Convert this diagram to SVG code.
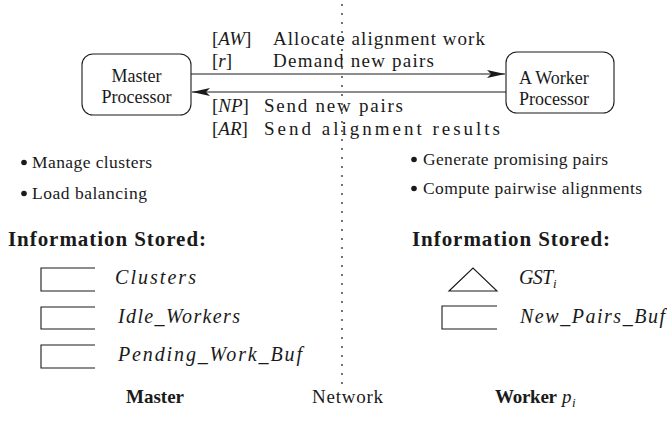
<svg xmlns="http://www.w3.org/2000/svg" width="667" height="436" viewBox="0 0 667 436">
<style>
  text { font-family: "Liberation Serif", "Times New Roman", serif; fill: #1a1a1a; }
  .box { fill: #fff; stroke: #1a1a1a; stroke-width: 1.1; }
  .ln { fill: none; stroke: #1a1a1a; stroke-width: 1.1; }
  .lbl { font-size: 20px; }
  .msg { font-size: 19px; }
  .nd { font-size: 18px; }
  .it { font-style: italic; }
  .bd { font-weight: bold; }
  .net { stroke: #1a1a1a; stroke-width: 1.2; stroke-dasharray: 2 7; fill: none; }
</style>
<defs>
  <marker id="ah" viewBox="0 0 18 8" refX="18" refY="4" markerWidth="18" markerHeight="8" markerUnits="userSpaceOnUse" orient="auto">
    <path d="M0,0 L18,4 L0,8 L4,4 Z" fill="#1a1a1a"/>
  </marker>
</defs>

<line class="net" x1="342" y1="4" x2="342" y2="384"/>

<g id="master">
  <rect class="box" x="82" y="54" width="109" height="61" rx="11"/>
  <text class="nd" x="136.5" y="82" text-anchor="middle">Master</text>
  <text class="nd" x="136.5" y="103" text-anchor="middle">Processor</text>
</g>

<g id="worker">
  <rect class="box" x="506" y="52" width="108" height="61" rx="11"/>
  <text class="nd" x="519" y="84">A Worker</text>
  <text class="nd" x="519" y="105">Processor</text>
</g>

<g id="connectors">
  <line class="ln" x1="191" y1="74" x2="505" y2="74" marker-end="url(#ah)"/>
  <line class="ln" x1="506" y1="92" x2="192" y2="92" marker-end="url(#ah)"/>
</g>

<g id="messages" class="msg">
  <text x="212" y="45">[<tspan class="it">AW</tspan>]</text>
  <text x="273" y="45" textLength="212">Allocate alignment work</text>
  <text x="212" y="67">[<tspan class="it">r</tspan>]</text>
  <text x="273" y="67" textLength="161">Demand new pairs</text>
  <text x="212" y="112">[<tspan class="it">NP</tspan>]</text>
  <text x="264" y="112" textLength="139">Send new pairs</text>
  <text x="212" y="135">[<tspan class="it">AR</tspan>]</text>
  <text x="264" y="135" textLength="236">Send alignment results</text>
</g>

<g id="master-tasks">
  <circle cx="24" cy="162.5" r="2.8" fill="#1a1a1a"/>
  <text x="32" y="168" font-size="17.5" textLength="120">Manage clusters</text>
  <circle cx="24" cy="193.5" r="2.8" fill="#1a1a1a"/>
  <text x="32" y="199" font-size="17.5" textLength="115">Load balancing</text>
</g>

<g id="worker-tasks">
  <circle cx="414" cy="159.5" r="2.8" fill="#1a1a1a"/>
  <text x="423" y="165" font-size="17.5" textLength="185">Generate promising pairs</text>
  <circle cx="414" cy="188.5" r="2.8" fill="#1a1a1a"/>
  <text x="423" y="194" font-size="17.5" textLength="219">Compute pairwise alignments</text>
</g>

<g id="master-info">
  <text class="bd" x="8" y="246" font-size="21" textLength="198">Information Stored:</text>
  <path class="ln" d="M95,268 H41 V291 H95"/>
  <text class="lbl it" x="115" y="284" textLength="81">Clusters</text>
  <path class="ln" d="M95,307 H41 V329 H95"/>
  <text class="lbl it" x="118" y="323" textLength="122">Idle_Workers</text>
  <path class="ln" d="M95,345 H41 V368 H95"/>
  <text class="lbl it" x="118" y="361" textLength="184">Pending_Work_Buf</text>
</g>

<g id="worker-info">
  <text class="bd" x="412" y="246" font-size="21" textLength="198">Information Stored:</text>
  <path class="ln" d="M449,291 L473,268 L497,291 Z"/>
  <text class="lbl it" x="519" y="284" textLength="34">GST</text>
  <text class="it" x="553" y="288" font-size="13">i</text>
  <path class="ln" d="M497,306 H442 V329 H497"/>
  <text class="lbl it" x="520" y="323" textLength="145">New_Pairs_Buf</text>
</g>

<g id="footer">
  <text class="bd" x="126" y="403" font-size="19" textLength="58">Master</text>
  <text x="312" y="403" font-size="19" textLength="71">Network</text>
  <text class="bd" x="495" y="403" font-size="19" textLength="62">Worker</text>
  <text class="it" x="562" y="403" font-size="19">p</text>
  <text class="it" x="572" y="407" font-size="13">i</text>
</g>
</svg>
